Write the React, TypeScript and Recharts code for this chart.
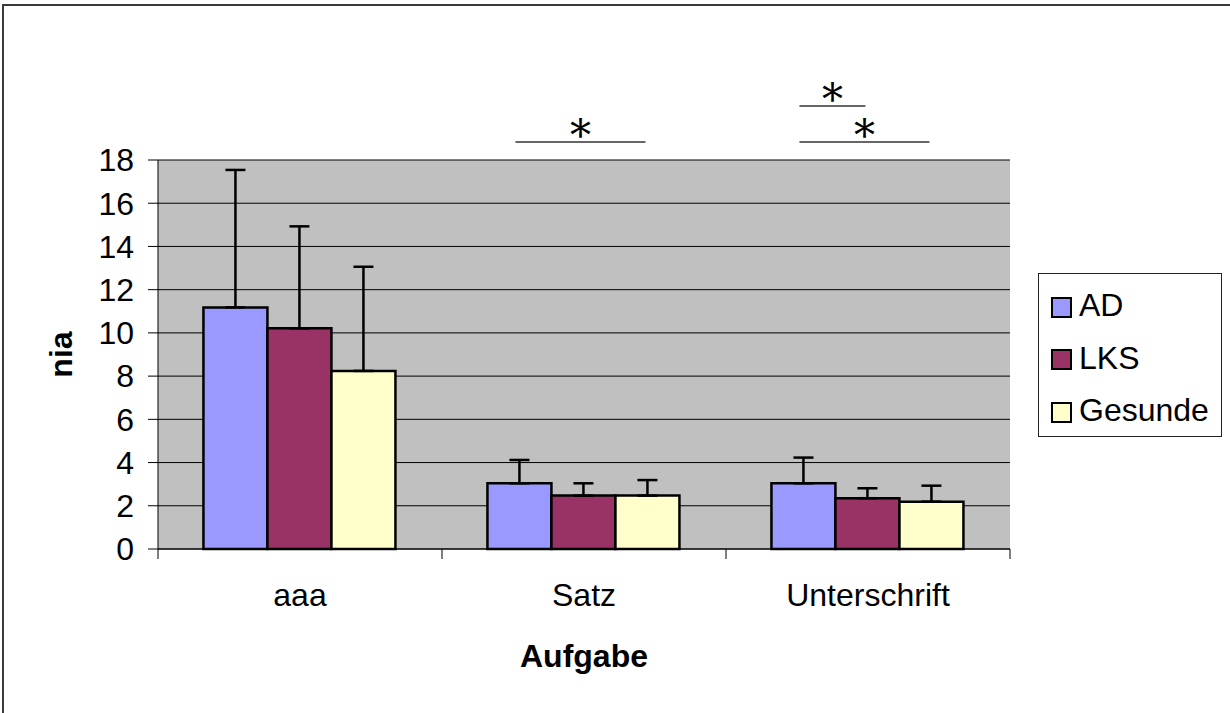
import React from 'react';
import { BarChart, Bar, XAxis, YAxis, CartesianGrid, ErrorBar, Legend, LabelList, Label } from 'recharts';

const categories = ['aaa', 'Satz', 'Unterschrift'];
const adValues = [11.18, 3.04, 3.04];
const lksValues = [10.21, 2.47, 2.35];
const gesundeValues = [8.24, 2.47, 2.19];
const adErrors = [6.36, 1.08, 1.19];
const lksErrors = [4.72, 0.57, 0.46];
const gesundeErrors = [4.82, 0.72, 0.74];
const yTicks = [0, 2, 4, 6, 8, 10, 12, 14, 16, 18];
const seriesNames = ['AD', 'LKS', 'Gesunde'];
const seriesColors = ['#9999FF', '#993366', '#FFFFCC'];

// significance markers: category index, from series, to series, line level, star level (data units)
const sigCategory = [1, 2, 2];
const sigFrom = [0, 0, 0];
const sigTo = [2, 1, 2];
const sigLineLevel = [18.83, 20.5, 18.83];
const sigStarLevel = [19.4, 21.05, 19.4];

const FONT = '"Liberation Sans", Arial, sans-serif';

const data = categories.map((name, i) => ({
  name,
  AD: adValues[i],
  LKS: lksValues[i],
  Gesunde: gesundeValues[i],
  adErr: [0, adErrors[i]],
  lksErr: [0, lksErrors[i]],
  gesundeErr: [0, gesundeErrors[i]],
}));

const SigMarks = (props: any) => {
  const vb = props.viewBox && props.viewBox.width !== undefined ? props.viewBox : props;
  const { x, y, width, height } = vb;
  const index = props.index;
  const value = Number(props.value);
  const items = sigCategory.map((_, k) => k).filter((k) => sigCategory[k] === index);
  if (!items.length || !value) return null;
  const base = y + height;
  const pxPer = height / value;
  return (
    <g>
      {items.map((k) => {
        const x1 = x + width * (sigFrom[k] + 0.5) - 4;
        const x2 = x + width * (sigTo[k] + 0.5) - 2;
        const ly = base - sigLineLevel[k] * pxPer;
        const sy = base - sigStarLevel[k] * pxPer;
        return (
          <g key={k}>
            <line x1={x1} y1={ly} x2={x2} y2={ly} stroke="#333" strokeWidth={1.5} />
            <text
              x={(x1 + x2) / 2}
              y={sy + 20}
              textAnchor="middle"
              fontFamily='"DejaVu Serif", serif'
              fontSize={42}
              fill="#000"
            >
              *
            </text>
          </g>
        );
      })}
    </g>
  );
};

const CategoryTick = (props: any) => {
  const { x, y, payload, index } = props;
  const half = payload && typeof payload.offset === 'number' ? payload.offset : 0;
  return (
    <g>
      <line x1={x - half} y1={y} x2={x - half} y2={y + 10} stroke="#000" strokeWidth={1} />
      {index === categories.length - 1 && (
        <line x1={x + half} y1={y} x2={x + half} y2={y + 10} stroke="#000" strokeWidth={1} />
      )}
      <text x={x} y={y + 57} textAnchor="middle" fontSize={32} fontFamily={FONT} fill="#000">
        {payload.value}
      </text>
    </g>
  );
};

const renderLegend = (props: any) => {
  const payload = [...(props.payload || [])].sort(
    (a: any, b: any) => seriesNames.indexOf(a.value) - seriesNames.indexOf(b.value)
  );
  return (
    <div
      style={{
        width: 184,
        height: 164,
        boxSizing: 'border-box',
        border: '1px solid #222',
        background: '#fff',
        position: 'relative',
        fontFamily: FONT,
      }}
    >
      {payload.map((entry: any, i: number) => (
        <div
          key={entry.value}
          style={{
            position: 'absolute',
            left: 12,
            top: 31 + i * 52.5 - 16,
            height: 32,
            display: 'flex',
            alignItems: 'center',
          }}
        >
          <div
            style={{
              width: 21,
              height: 21,
              boxSizing: 'border-box',
              border: '2px solid #000',
              background: entry.color,
              marginRight: 7,
              marginTop: 4,
            }}
          />
          <span style={{ fontSize: 32, lineHeight: '32px', color: '#000' }}>{entry.value}</span>
        </div>
      ))}
    </div>
  );
};

const renderYLabel = (props: any) => {
  const vb = props.viewBox || { x: 0, y: 160, width: 158, height: 389 };
  const cx = vb.x + 72;
  const cy = vb.y + vb.height / 2;
  return (
    <text
      x={cx}
      y={cy}
      transform={`rotate(-90, ${cx}, ${cy})`}
      textAnchor="middle"
      fontSize={32}
      fontWeight="bold"
      fontFamily={FONT}
      fill="#000"
    >
      nia
    </text>
  );
};

const renderXLabel = (props: any) => {
  const vb = props.viewBox || { x: 158, y: 549, width: 852, height: 164 };
  return (
    <text
      x={vb.x + vb.width / 2}
      y={vb.y + 118}
      textAnchor="middle"
      fontSize={32}
      fontWeight="bold"
      fontFamily={FONT}
      fill="#000"
    >
      Aufgabe
    </text>
  );
};

export default function App() {
  return (
    <div
      style={{
        position: 'absolute',
        left: 0,
        top: 0,
        width: 1230,
        height: 713,
        background: '#fff',
        overflow: 'hidden',
      }}
    >
      <div
        style={{
          position: 'absolute',
          left: 2,
          top: 4,
          width: 1300,
          height: 800,
          border: '2px solid #3a3a3a',
        }}
      />
      <div style={{ position: 'absolute', left: 0, top: 0 }}>
        <BarChart
          width={1230}
          height={713}
          data={data}
          margin={{ top: 160, right: 220, bottom: 0, left: 0 }}
          barCategoryGap="16%"
          barGap={0}
        >
          <CartesianGrid fill="#C0C0C0" stroke="#000" vertical={false} />
          <XAxis
            dataKey="name"
            height={164}
            tickSize={0}
            tickMargin={0}
            tickLine={false}
            axisLine={{ stroke: '#000', strokeWidth: 1 }}
            tick={<CategoryTick />}
            interval={0}
          >
            <Label content={renderXLabel} />
          </XAxis>
          <XAxis
            xAxisId="top"
            orientation="top"
            dataKey="name"
            height={0}
            tick={false}
            tickLine={false}
            axisLine={{ stroke: '#808080', strokeWidth: 3 }}
          />
          <YAxis
            width={158}
            domain={[0, 18]}
            ticks={yTicks}
            interval={0}
            tickSize={10}
            tickMargin={14}
            tickLine={{ stroke: '#000' }}
            axisLine={{ stroke: '#000', strokeWidth: 1 }}
            tick={{ fontSize: 32, fontFamily: FONT, fill: '#000' }}
          >
            <Label content={renderYLabel} />
          </YAxis>
          <YAxis
            yAxisId="right"
            orientation="right"
            width={0}
            domain={[0, 18]}
            tick={false}
            tickLine={false}
            axisLine={{ stroke: '#808080', strokeWidth: 3 }}
          />
          <Legend
            layout="vertical"
            align="center"
            verticalAlign="middle"
            wrapperStyle={{ left: 1038, top: 273, width: 184, height: 164 }}
            content={renderLegend}
          />
          <Bar dataKey="AD" name={seriesNames[0]} fill={seriesColors[0]} stroke="#000" strokeWidth={2.5} isAnimationActive={false}>
            <ErrorBar dataKey="adErr" width={10} stroke="#000" strokeWidth={2.5} direction="y" />
            <LabelList dataKey="AD" content={SigMarks} />
          </Bar>
          <Bar dataKey="LKS" name={seriesNames[1]} fill={seriesColors[1]} stroke="#000" strokeWidth={2.5} isAnimationActive={false}>
            <ErrorBar dataKey="lksErr" width={10} stroke="#000" strokeWidth={2.5} direction="y" />
          </Bar>
          <Bar dataKey="Gesunde" name={seriesNames[2]} fill={seriesColors[2]} stroke="#000" strokeWidth={2.5} isAnimationActive={false}>
            <ErrorBar dataKey="gesundeErr" width={10} stroke="#000" strokeWidth={2.5} direction="y" />
          </Bar>
        </BarChart>
      </div>
    </div>
  );
}
